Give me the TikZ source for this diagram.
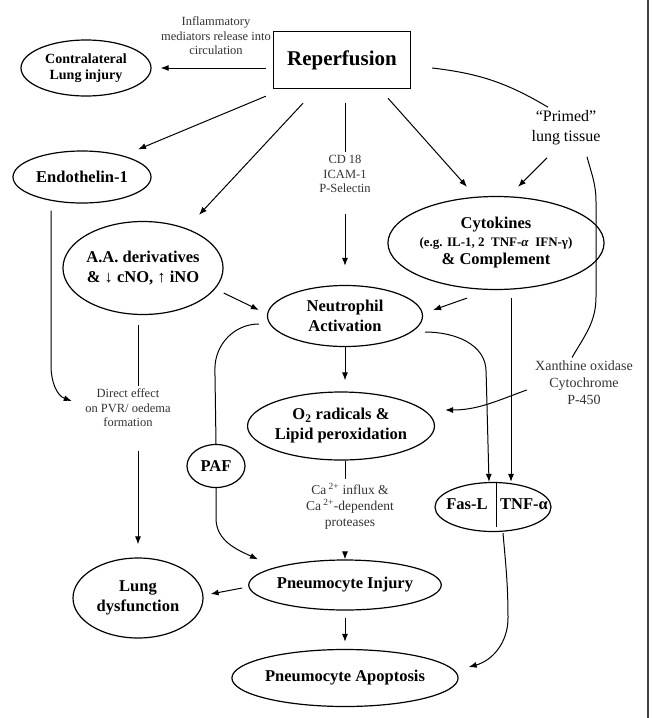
\documentclass[tikz,border=0pt]{standalone}
\usepackage{fontspec}
\setmainfont{Liberation Serif}
\usetikzlibrary{shapes.geometric,arrows.meta}

\tikzstyle{every node}=[font=\fontsize{16.5}{20}\selectfont\bfseries]
\tikzstyle{oval}=[draw, ellipse, line width=1.2pt, inner sep=0pt, align=center]
\tikzstyle{note}=[font=\fontsize{12.5}{14.5}\selectfont, align=center, text=black!80]
\tikzstyle{link}=[->, line width=1pt]

\begin{document}
\begin{tikzpicture}[x=1pt, y=1pt, >={Latex[length=8pt,width=6pt]}]
  \useasboundingbox (0,0) rectangle (652,-718);
  % 右边框
  \draw[line width=1.6pt, black!75] (648,0) -- (648,-718);

  % 顶部方框
  \node[draw, line width=1.4pt, minimum width=137pt, minimum height=57pt,
        font=\fontsize{21}{24}\selectfont\bfseries] (rep) at (342,-60) {Reperfusion};

  % 椭圆
  \node[oval, minimum width=130pt, minimum height=56pt, font=\fontsize{14}{16}\selectfont\bfseries]
        (contra) at (86,-68) {Contralateral\\Lung injury};
  \node[oval, minimum width=138pt, minimum height=52pt] (endo) at (82,-177) {Endothelin-1};
  \node[oval, minimum width=158pt, minimum height=93pt] (aa) at (143,-268) {A.A. derivatives\\\& ↓ cNO, ↑ iNO};
  \node[oval, minimum width=187pt, minimum height=93pt, font=\fontsize{16.5}{18}\selectfont\bfseries]
        (cyto) at (496,-243) {Cytokines\\{\fontsize{13}{18}\selectfont(e.g. IL-1, 2\ \ TNF-\textit{α}\ \ IFN-γ)}\\\& Complement};
  \node[oval, minimum width=155pt, minimum height=61pt] (neu) at (345,-316) {Neutrophil\\Activation};
  \node[oval, minimum width=165pt, minimum height=68pt] (o2) at (341,-426) {O\textsubscript{2} radicals \&\\Lipid peroxidation};
  \node[oval, minimum width=58pt, minimum height=43pt] (paf) at (216,-466) {PAF};
  \node[oval, minimum width=116pt, minimum height=49pt] (fas) at (493,-507) {};
  \node (fasl) at (467,-504) {Fas-L};
  \node (tnf) at (524,-504) {TNF-α};
  \node[oval, minimum width=188pt, minimum height=50pt] (inj) at (345,-585) {Pneumocyte Injury};
  \node[oval, minimum width=130pt, minimum height=80pt] (lung) at (138,-598) {Lung\\dysfunction};
  \node[oval, minimum width=186pt, minimum height=57pt] (apo) at (345,-678) {Pneumocyte Apoptosis};

  % 文字说明
  \node[note] (infl) at (216,-36) {Inflammatory\\mediators release into\\circulation};
  \node[note] (cd) at (345,-174) {CD 18\\ICAM-1\\P-Selectin};
  \node[note, font=\fontsize{16}{20}\selectfont, text=black] (primed) at (566,-128) {“Primed”\\lung tissue};
  \node[note, font=\fontsize{14}{17}\selectfont] (xan) at (584,-383) {Xanthine oxidase\\Cytochrome\\P-450};
  \node[note] (direct) at (128,-408) {Direct effect\\on PVR/ oedema\\formation};
  \node[note, font=\fontsize{13.5}{16}\selectfont] (ca) at (350,-506) {Ca\,\textsuperscript{2+} influx \&\\Ca\,\textsuperscript{2+}-dependent\\proteases};

  % 从 Reperfusion 出发
  \draw[link, shorten <=7pt, shorten >=9pt] (rep.west |- contra.east) -- (contra.east);
  \draw[link] ([shift={(-7,-7)}]rep.south west) -- ([shift={(56,1)}]endo.north);
  \draw[link] ([shift={(-39,-14)}]rep.south) -- ([shift={(56,6)}]aa.north);
  \draw[line width=1pt, shorten <=14pt] (rep.south -| cd.north) -- (cd.north);
  \draw[link, shorten <=18pt, shorten >=19pt] (cd.south) -- (cd.south |- neu.north);
  \draw[link] ([shift={(46,-9)}]rep.south) -- ([shift={(-29,9)}]cyto.north);
  \draw[line width=1pt] ([shift={(21,-8)}]rep.east) to[bend left=12] ([xshift=-18pt]primed.north);

  % Primed lung tissue
  \draw[link] ([shift={(-19,-9)}]primed.south) -- ([shift={(22,9)}]cyto.north);
  \draw[line width=1pt] ([shift={(21,-8)}]primed.south) to[out=-75,in=90] ++(9,-45)
        -- ++(0,-95) to[out=-90,in=60] ([xshift=-12pt]xan.north);

  % 中间部分
  \draw[link] ([shift={(-29,-8)}]cyto.south) -- ([shift={(10,6)}]neu.east);
  \draw[link] ([yshift=-25pt]aa.east) -- ([shift={(-8,6)}]neu.west);
  \draw[link, shorten >=11pt] (neu.south) -- (neu.south |- o2.north);
  \draw[link] ([shift={(-5,-7)}]xan.west) to[out=-160,in=0] ([shift={(10,16)}]o2.east);
  \draw[link] ([shift={(2,-16)}]neu.east) to[out=0,in=90] ++(61,-40) -- ([xshift=-4pt]fas.north);
  \draw[link] ([shift={(15,-8)}]cyto.south) -- ([xshift=18pt]fas.north);
  \draw[line width=1pt] ([xshift=3pt]fas.north) -- ([shift={(3,5)}]fas.south);
  \draw[link] ([shift={(10,-1)}]fas.south) to[out=-85,in=90] ++(5,-85)
        to[out=-90,in=15] ([shift={(10,11)}]apo.east);

  % PAF
  \draw[line width=1pt] ([shift={(-8,-8)}]neu.west) to[out=180,in=90] ++(-44,-45) -- (paf.north);
  \draw[link] (paf.south) -- ++(0,-30) to[out=-90,in=155] ([xshift=-87pt]inj.north);

  % 下部
  \draw[line width=1pt] (neu.south |- o2.south) -- (neu.south |- ca.north);
  \draw[link, shorten <=20pt] (neu.south |- ca.south) -- (neu.south |- inj.north);
  \draw[link] ([shift={(-6,-3)}]inj.west) -- ([shift={(7,4)}]lung.east);
  \draw[link, shorten <=7pt, shorten >=7pt] (inj.south) -- (apo.north);
  \draw[line width=1pt, shorten <=10pt] (aa.south -| lung.north) -- (direct.north -| lung.north);
  \draw[link, shorten <=20pt, shorten >=13pt] (direct.south -| lung.north) -- (lung.north);
  \draw[link] ([shift={(-31,-7)}]endo.south) -- ++(0,-155) to[out=-90,in=160] ([shift={(-10,7)}]direct.west);
\end{tikzpicture}
\end{document}
